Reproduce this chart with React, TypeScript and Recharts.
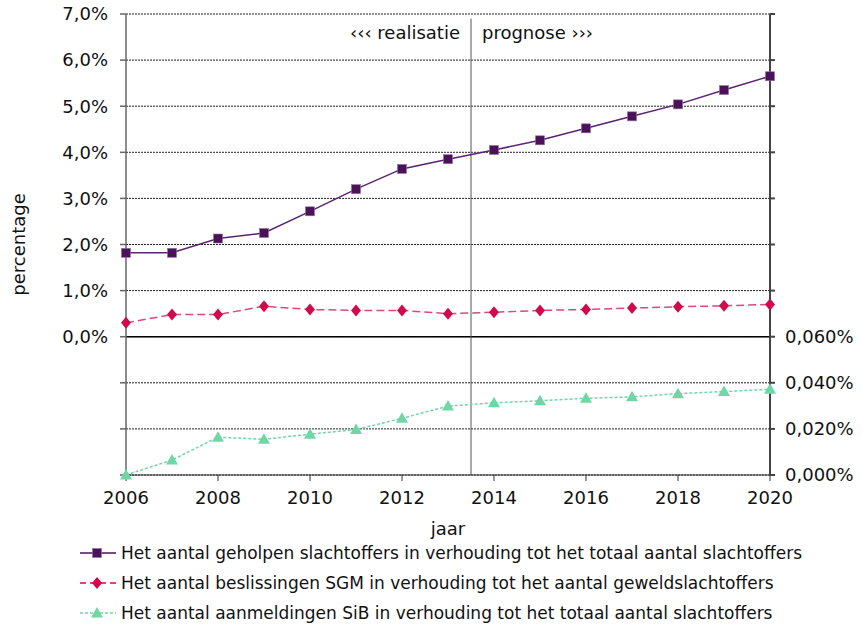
import React from 'react';
import {
  ComposedChart,
  Line,
  XAxis,
  YAxis,
  CartesianGrid,
  ReferenceLine,
  Legend
} from 'recharts';

const years = [2006, 2007, 2008, 2009, 2010, 2011, 2012, 2013, 2014, 2015, 2016, 2017, 2018, 2019, 2020];
const geholpen = [1.82, 1.82, 2.13, 2.25, 2.72, 3.2, 3.64, 3.85, 4.05, 4.26, 4.52, 4.78, 5.04, 5.35, 5.65];
const beslissingen = [0.3, 0.48, 0.48, 0.66, 0.59, 0.57, 0.57, 0.5, 0.53, 0.57, 0.59, 0.62, 0.65, 0.67, 0.7];
const aanmeldingen = [0, 0.0065, 0.0164, 0.0155, 0.0177, 0.0197, 0.0246, 0.0299, 0.0313, 0.0322, 0.0333, 0.0339, 0.0353, 0.0362, 0.0372];

const xTicks = [2006, 2008, 2010, 2012, 2014, 2016, 2018, 2020];
const leftTicks = [-3, -2, -1, 0, 1, 2, 3, 4, 5, 6, 7];
const rightTicks = [0, 0.02, 0.04, 0.06, 0.08, 0.1, 0.12, 0.14, 0.16, 0.18, 0.2];
const splitYear = 2013.5;

const seriesNames = [
  'Het aantal geholpen slachtoffers in verhouding tot het totaal aantal slachtoffers',
  'Het aantal beslissingen SGM in verhouding tot het aantal geweldslachtoffers',
  'Het aantal aanmeldingen SiB in verhouding tot het totaal aantal slachtoffers'
];

const data = years.map((jaar, i) => ({
  jaar,
  geholpen: geholpen[i],
  beslissingen: beslissingen[i],
  aanmeldingen: aanmeldingen[i]
}));

const FONT = '"DejaVu Sans", Verdana, sans-serif';
const PURPLE = '#4b1259';
const RED = '#d20a4b';
const GREEN = '#6fd6a6';

const Square = ({ cx, cy }: any) =>
  cx == null ? null : (
    <rect x={cx - 4.5} y={cy - 4.5} width={9} height={9} fill={PURPLE} stroke="#8f72a0" strokeWidth={0.6} />
  );

const Diamond = ({ cx, cy }: any) =>
  cx == null ? null : (
    <path d={`M${cx},${cy - 6}L${cx + 5},${cy}L${cx},${cy + 6}L${cx - 5},${cy}Z`} fill={RED} />
  );

const Triangle = ({ cx, cy }: any) =>
  cx == null ? null : (
    <path d={`M${cx},${cy - 6}L${cx + 6},${cy + 4.5}L${cx - 6},${cy + 4.5}Z`} fill={GREEN} />
  );

const legendRows = [
  { name: seriesNames[0], color: PURPLE, dash: undefined, Marker: Square },
  { name: seriesNames[1], color: RED, dash: '6 4', Marker: Diamond },
  { name: seriesNames[2], color: GREEN, dash: '3 2', Marker: Triangle }
];

const CustomLegend = () => (
  <div style={{ paddingTop: 3, fontFamily: FONT, fontSize: 17, color: '#111', whiteSpace: 'nowrap' }}>
    {legendRows.map(row => (
      <div key={row.name} style={{ display: 'flex', alignItems: 'center', height: 30, paddingLeft: 80 }}>
        <svg width={38} height={14} style={{ marginRight: 3, flexShrink: 0 }}>
          <line x1={0} y1={7} x2={36} y2={7} stroke={row.color} strokeWidth={1.5} strokeDasharray={row.dash} />
          <row.Marker cx={17} cy={7} />
        </svg>
        <span>{row.name}</span>
      </div>
    ))}
  </div>
);

const SplitLabel = ({ viewBox }: any) => {
  if (!viewBox) return null;
  const x = viewBox.x;
  const y = viewBox.y + 25;
  return (
    <g fontFamily={FONT} fontSize={18} fill="#111">
      <text x={x - 11} y={y} textAnchor="end">‹‹‹ realisatie</text>
      <text x={x + 11} y={y} textAnchor="start">prognose ›››</text>
    </g>
  );
};

const fmtLeft = (v: number) => (v < 0 ? '' : `${v.toFixed(1).replace('.', ',')}%`);
const fmtRight = (v: number) => (v > 0.0601 ? '' : `${v.toFixed(3).replace('.', ',')}%`);

const tickStyle = { fill: '#111', fontSize: 18, fontFamily: FONT };

export default function App() {
  return (
    <div style={{ position: 'absolute', left: 0, top: 0, width: 862, height: 627, background: '#fff' }}>
      <ComposedChart
        width={862}
        height={627}
        data={data}
        margin={{ top: 14, right: 12, left: 56, bottom: 2 }}
        style={{ fontFamily: FONT }}
      >
        <CartesianGrid
          yAxisId="left"
          vertical={false}
          stroke="#222"
          strokeDasharray="2 1"
        />
        <XAxis
          dataKey="jaar"
          type="number"
          domain={[2006, 2020]}
          ticks={xTicks}
          height={60}
          tick={tickStyle}
          tickSize={6}
          tickMargin={10}
          stroke="#333"
          label={{ value: 'jaar', position: 'insideBottom', offset: 0, fill: '#111', fontSize: 18, fontFamily: FONT }}
        />
        <YAxis
          yAxisId="left"
          domain={[-3, 7]}
          ticks={leftTicks}
          interval={0}
          tickFormatter={fmtLeft}
          width={70}
          tick={tickStyle}
          tickSize={6}
          tickMargin={12}
          stroke="#666"
          strokeWidth={1.5}
          label={{ value: 'percentage', angle: -90, position: 'center', dx: -72, fill: '#111', fontSize: 18, fontFamily: FONT }}
        />
        <YAxis
          yAxisId="right"
          orientation="right"
          domain={[0, 0.2]}
          ticks={rightTicks}
          interval={0}
          tickFormatter={fmtRight}
          width={80}
          tick={tickStyle}
          tickSize={5}
          tickMargin={10}
          stroke="#444"
          strokeWidth={2}
        />
        <ReferenceLine yAxisId="left" y={0} stroke="#000" strokeWidth={1.5} />
        <ReferenceLine
          yAxisId="left"
          segment={[{ x: splitYear, y: 6.9 }, { x: splitYear, y: -3 }]}
          stroke="#555"
          strokeWidth={1}
          ifOverflow="visible"
        />
        <ReferenceLine
          yAxisId="left"
          x={splitYear}
          stroke="none"
          label={<SplitLabel />}
        />
        <Line
          yAxisId="left"
          dataKey="geholpen"
          name={seriesNames[0]}
          stroke="#5a2470"
          strokeWidth={1.5}
          dot={<Square />}
          isAnimationActive={false}
        />
        <Line
          yAxisId="left"
          dataKey="beslissingen"
          name={seriesNames[1]}
          stroke="#d94a78"
          strokeWidth={1.5}
          strokeDasharray="8 4"
          dot={<Diamond />}
          isAnimationActive={false}
        />
        <Line
          yAxisId="right"
          dataKey="aanmeldingen"
          name={seriesNames[2]}
          stroke={GREEN}
          strokeWidth={1.5}
          strokeDasharray="3 2"
          dot={<Triangle />}
          isAnimationActive={false}
        />
        <Legend
          verticalAlign="bottom"
          height={90}
          wrapperStyle={{ left: 0, width: 862 }}
          content={<CustomLegend />}
        />
      </ComposedChart>
    </div>
  );
}
